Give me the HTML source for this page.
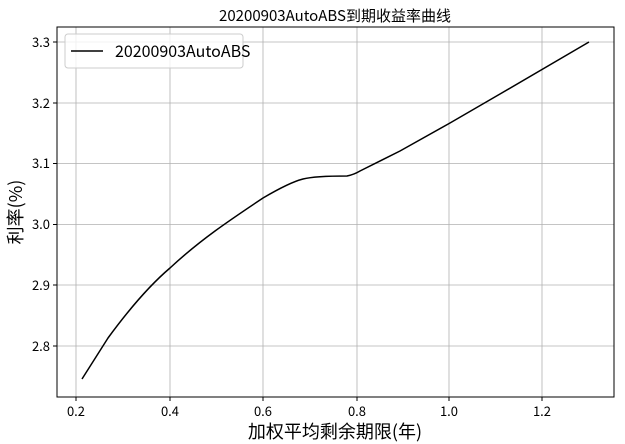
<!DOCTYPE html>
<html><head><meta charset="utf-8"><style>body{margin:0;background:#fff}svg{display:block}</style></head><body>
<svg width="625" height="444" xmlns="http://www.w3.org/2000/svg" font-family="'WenQuanYi Zen Hei','Noto Sans CJK SC',sans-serif">
<rect width="625" height="444" fill="#fff"/>
<g stroke="#b0b0b0" stroke-width="0.8">
<line x1="76" y1="27" x2="76" y2="397"/><line x1="170" y1="27" x2="170" y2="397"/><line x1="263" y1="27" x2="263" y2="397"/><line x1="357" y1="27" x2="357" y2="397"/><line x1="449" y1="27" x2="449" y2="397"/><line x1="542" y1="27" x2="542" y2="397"/>
<line x1="57" y1="42" x2="614" y2="42"/><line x1="57" y1="103" x2="614" y2="103"/><line x1="57" y1="163.5" x2="614" y2="163.5"/><line x1="57" y1="224.5" x2="614" y2="224.5"/><line x1="57" y1="285" x2="614" y2="285"/><line x1="57" y1="346" x2="614" y2="346"/>
</g>
<path d="M82,379 L108,338 C130,308 150,285 170,268 C200,240 230,220 263,198 C280,188 295,181 303,179 C315,176 335,176 347,176 C352,175 355,174 360,171 L400,151 L450,123 L500,94 L589,42" fill="none" stroke="#000" stroke-width="1.5"/>
<rect x="57" y="27" width="557" height="370" fill="none" stroke="#000" stroke-width="1"/>
<g stroke="#000"><line x1="76" y1="397" x2="76" y2="401"/><line x1="170" y1="397" x2="170" y2="401"/><line x1="263" y1="397" x2="263" y2="401"/><line x1="357" y1="397" x2="357" y2="401"/><line x1="449" y1="397" x2="449" y2="401"/><line x1="542" y1="397" x2="542" y2="401"/>
<line x1="53" y1="42" x2="57" y2="42"/><line x1="53" y1="103" x2="57" y2="103"/><line x1="53" y1="163.5" x2="57" y2="163.5"/><line x1="53" y1="224.5" x2="57" y2="224.5"/><line x1="53" y1="285" x2="57" y2="285"/><line x1="53" y1="346" x2="57" y2="346"/></g>
<g font-size="13" text-anchor="middle" fill="#000"><text x="76" y="416">0.2</text><text x="170" y="416">0.4</text><text x="263" y="416">0.6</text><text x="357" y="416">0.8</text><text x="449" y="416">1.0</text><text x="542" y="416">1.2</text></g>
<g font-size="13" text-anchor="end" fill="#000"><text x="50" y="47">3.3</text><text x="50" y="108">3.2</text><text x="50" y="168">3.1</text><text x="50" y="229">3.0</text><text x="50" y="290">2.9</text><text x="50" y="351">2.8</text></g>
<text x="335" y="438" font-size="18" text-anchor="middle">加权平均剩余期限(年)</text>
<text transform="translate(22,212) rotate(-90)" font-size="18" text-anchor="middle">利率(%)</text>
<text x="335" y="21" font-size="15" text-anchor="middle">20200903AutoABS到期收益率曲线</text>
<rect x="65" y="34" width="178" height="34" rx="3" fill="#fff" fill-opacity="0.8" stroke="#ccc"/>
<line x1="71" y1="51" x2="103" y2="51" stroke="#000" stroke-width="1.5"/>
<text x="115" y="57" font-size="16">20200903AutoABS</text>
</svg>
</body></html>
